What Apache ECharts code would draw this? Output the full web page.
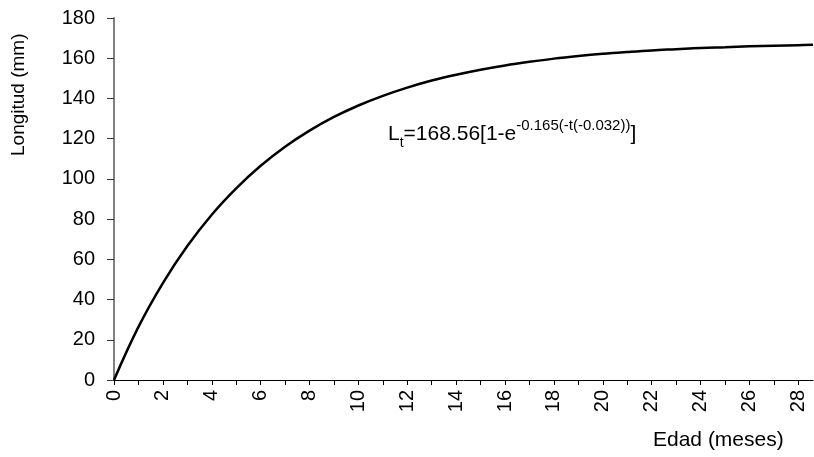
<!DOCTYPE html>
<html>
<head>
<meta charset="utf-8">
<script src="https://cdn.jsdelivr.net/npm/echarts@6/dist/echarts.min.js"></script>
<style>
html,body{margin:0;padding:0;background:#fff;}
#c{width:814px;height:457px;}
</style>
</head>
<body>
<div id="c"></div>
<script>
// Edad (meses)
const ages = [0,1,2,3,4,5,6,7,8,9,10,11,12,13,14,15,16,17,18,19,20,21,22,23,24,25,26,27,28,28.6];
// Longitud (mm)
const lengths = [0,26.4,48.2,66.6,82.2,95.3,106.5,116,124,130.8,136.5,141.3,145.4,148.9,151.8,154.3,156.4,158.2,159.8,161.1,162.2,163.1,163.9,164.5,165.1,165.5,165.9,166.2,166.5,166.7];
const yTicks = {min:0, max:180, interval:20};
const xTicks = {min:0, max:28.6, interval:1, labelEvery:2};
const yTitle = 'Longitud (mm)';
const xTitle = 'Edad (meses)';

const FONT = 'Liberation Sans, Arial, sans-serif';
const chart = echarts.init(document.getElementById('c'), null, {renderer:'canvas'});
const pts = ages.map((a,i)=>[a,lengths[i]]);
chart.setOption({
  animation:false,
  backgroundColor:'#fff',
  grid:{left:114, top:18, right:1, bottom:77, containLabel:false},
  xAxis:{
    type:'value', min:xTicks.min, max:xTicks.max, interval:xTicks.interval,
    axisLine:{show:true, onZero:false, lineStyle:{color:'#000', width:1}},
    axisTick:{show:true, length:5, lineStyle:{color:'#000', width:1}},
    splitLine:{show:false},
    axisLabel:{
      rotate:90, margin:10, color:'#000', fontFamily:FONT, fontSize:20,
      showMaxLabel:false,
      formatter:function(v){ return (Math.abs(v % xTicks.labelEvery) < 1e-9) ? String(v) : ''; }
    }
  },
  yAxis:{
    type:'value', min:yTicks.min, max:yTicks.max, interval:yTicks.interval,
    axisLine:{show:true, lineStyle:{color:'#808080', width:2}},
    axisTick:{show:true, length:7, lineStyle:{color:'#333', width:1}},
    splitLine:{show:false},
    axisLabel:{margin:19, color:'#000', fontFamily:FONT, fontSize:20}
  },
  graphic:[
    {type:'text', rotation:Math.PI/2, x:9, y:156, style:{text:yTitle, fill:'#000', font:'19px '+FONT}},
    {type:'text', left:653, top:430, style:{text:xTitle, fill:'#000', font:'21px '+FONT}},
    {type:'text', left:388, top:118, style:{
      text:'{m|L}{s|t}{m|=168.56[1-e}{p|-0.165(-t(-0.032))}{m|]}',
      rich:{
        m:{fontSize:21, fontFamily:FONT, color:'#000', lineHeight:32, verticalAlign:'middle'},
        s:{fontSize:14, fontFamily:FONT, color:'#000', lineHeight:32, verticalAlign:'bottom'},
        p:{fontSize:15, fontFamily:FONT, color:'#000', lineHeight:32, verticalAlign:'top'}
      }
    }}
  ],
  series:[{
    type:'line', data:pts, smooth:0.4, showSymbol:false,
    lineStyle:{color:'#000', width:2.5}, z:3
  }]
});
</script>
</body>
</html>
